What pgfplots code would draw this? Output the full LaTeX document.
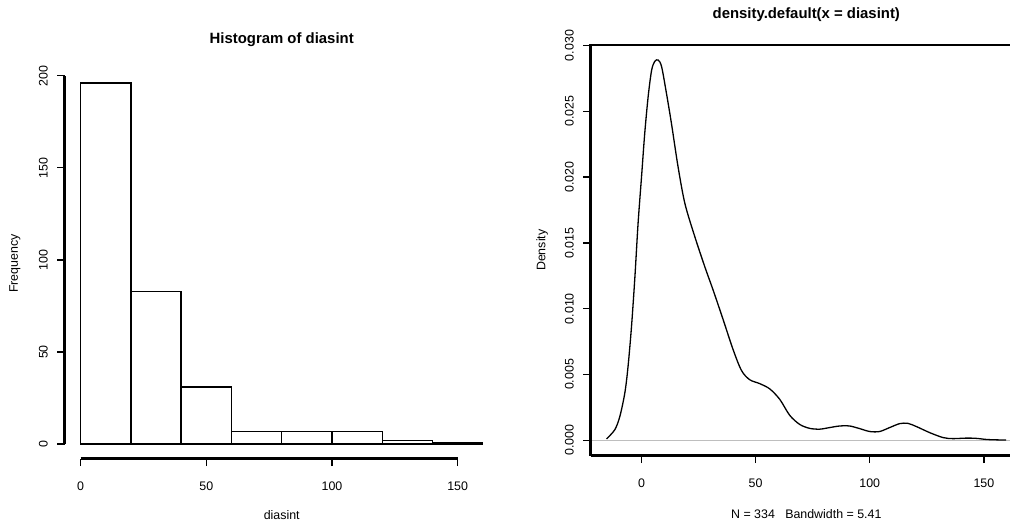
\documentclass[border=0pt]{standalone}
\usepackage{fontspec}
\setmainfont{Liberation Sans}
\usepackage{pgfplots}
\pgfplotsset{compat=1.18}

% look of R base graphics
\pgfplotsset{
  rbase/.style={
    scale only axis,
    clip=false,
    tick align=outside,
    major tick length=3.75pt,
    tick pos=left,
    every tick/.style={black, line width=0.7pt},
    /pgf/number format/assume math mode=true,
    tick label style={font=\fontsize{6.2}{7.4}\selectfont},
    label style={font=\fontsize{6.2}{7.4}\selectfont},
    xticklabel style={anchor=north, inner sep=0pt, yshift=-7.5pt},
    yticklabel style={xshift=-4.5pt, rotate=90, anchor=south, inner sep=0pt},
    title style={font=\fontsize{7.45}{9}\selectfont\bfseries, anchor=center},
    every axis title shift=0pt,
    xlabel style={anchor=center},
    ylabel style={anchor=center},
    axis line style={draw=none},
  }
}

\begin{document}
\begin{tikzpicture}
\useasboundingbox (0,0) rectangle (505pt,264.5pt);

% histogram
\begin{axis}[rbase,
    at={(32.3pt,35.2pt)}, anchor=south west,
    width=217.1pt, height=195pt,
    xmin=-6.4, xmax=166.4, ymin=-7.84, ymax=203.84,
    xtick={0,50,100,150}, ytick={0,50,100,150,200},
    title={Histogram of diasint},
    title style={at={(0.5,1.0735)}},
    xlabel={diasint}, xlabel style={at={(0.5,-0.144)}},
    ylabel={Frequency}, ylabel style={at={(-0.1145,0.5)}},
]
\addplot[ybar interval, fill=white, draw=black, line width=0.7pt] coordinates {
    (0,196) (20,83) (40,31) (60,7) (80,7) (100,7) (120,2) (140,1) (160,1)
};
\draw[black, line width=1.2pt] (axis cs:0,-7.84) -- (axis cs:150,-7.84);
\draw[black, line width=1.2pt] (axis cs:-6.4,0) -- (axis cs:-6.4,200);
\end{axis}

% density estimate
\begin{axis}[rbase,
    at={(295.3pt,36.7pt)}, anchor=south west,
    width=215.7pt, height=205.4pt,
    xmin=-22.3, xmax=166.7, ymin=-0.00117, ymax=0.03006,
    xtick={0,50,100,150},
    ytick={0,0.005,0.010,0.015,0.020,0.025,0.030},
    scaled y ticks=false,
    yticklabel style={/pgf/number format/.cd, fixed, fixed zerofill, precision=3},
    title={density.default(x = diasint)},
    title style={at={(0.5,1.0726)}},
    xlabel={N = 334\ \ \ Bandwidth = 5.41}, xlabel style={at={(0.5,-0.1427)}},
    ylabel={Density}, ylabel style={at={(-0.1125,0.5)}},
]
\addplot[color={rgb,255:red,190;green,190;blue,190}, line width=0.55pt] coordinates {
    (-22.3,0) (166.7,0)
};
\addplot[black, line width=0.65pt, smooth, tension=0.5] coordinates {
    (-15.3,0.0001) (-11.7,0.0008) (-9.5,0.0018) (-7.3,0.0036) (-5.9,0.0056)
    (-4.4,0.0086) (-2.9,0.0124) (-1.5,0.0165) (0,0.0200) (1.4,0.0233)
    (2.9,0.0261) (4.4,0.0281) (5.8,0.0288) (7.3,0.0289) (8.8,0.0284)
    (10.9,0.0264) (13.1,0.0241) (16.0,0.0208) (19.0,0.0180) (23.3,0.0155)
    (27.7,0.0132) (31.4,0.0114) (35.7,0.0092) (40.1,0.0069) (43.8,0.0053)
    (47.4,0.0046) (51.8,0.0043) (56.2,0.0039) (60.6,0.0031) (64.9,0.0019)
    (69.3,0.0012) (73.7,0.0009) (78.1,0.00084) (82.4,0.00096) (86.8,0.00108)
    (91.2,0.00108) (95.6,0.00088) (100.0,0.00066) (104.3,0.00066) (108.7,0.00096)
    (113.1,0.00126) (116.7,0.00128) (120.4,0.00104) (126.2,0.00058) (132.1,0.0002)
    (136.4,0.00012) (142.3,0.00016) (146.7,0.00014) (151.7,0.00005) (159.7,0.00001)
};
\draw[black, line width=1.2pt] (rel axis cs:0,0) -- (rel axis cs:0,1) -- (rel axis cs:1,1);
\draw[black, line width=1.2pt] (rel axis cs:0,0) -- (rel axis cs:1,0);
\end{axis}
\end{tikzpicture}
\end{document}
